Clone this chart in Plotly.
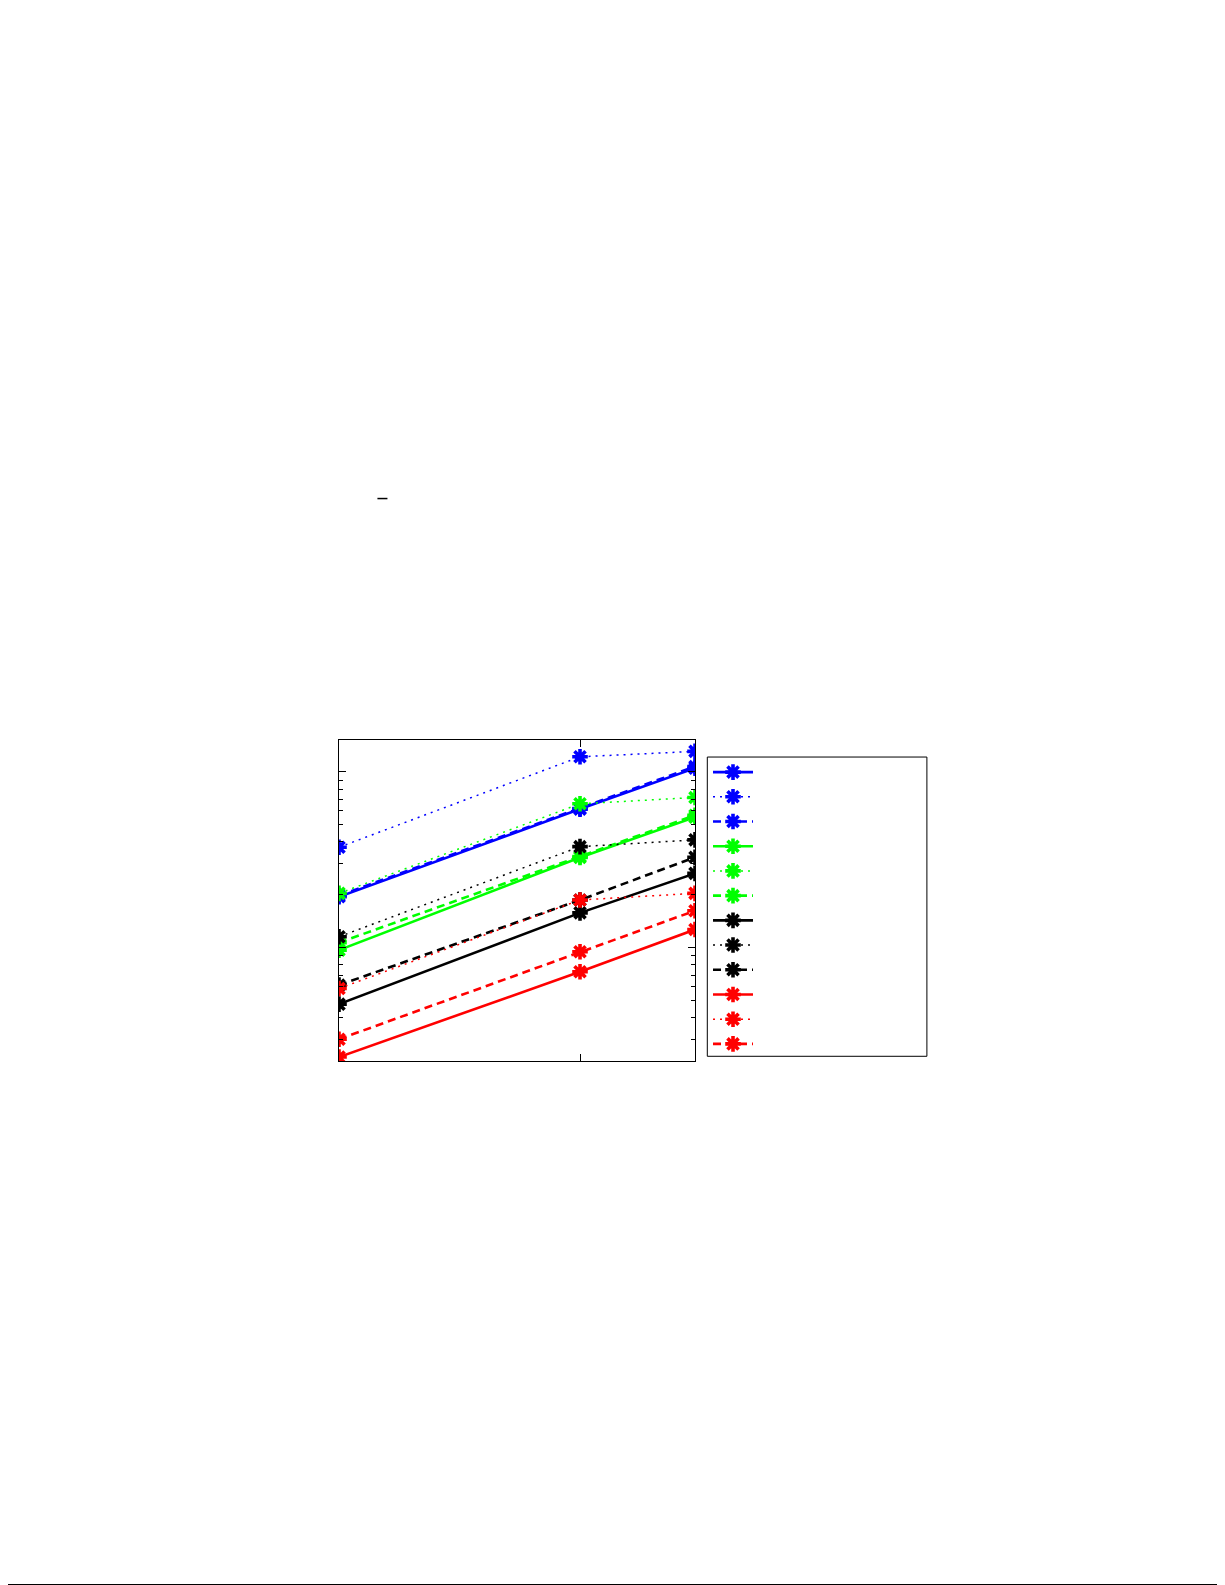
import plotly.graph_objects as go

# ---- data ----
x_vals = [10, 100, 300]
series_names = [" ", " ", " ", " ", " ", " ", " ", " ", " ", " ", " ", " "]
blue_solid = [1.95, 6.15, 10.5]
blue_dotted = [3.73, 12.2, 13.1]
blue_dashed = [1.98, 6.2, 10.75]
green_solid = [0.97, 3.26, 5.53]
green_dotted = [2.04, 6.59, 7.16]
green_dashed = [1.07, 3.3, 5.67]
black_solid = [0.478, 1.58, 2.65]
black_dotted = [1.155, 3.76, 4.11]
black_dashed = [0.613, 1.87, 3.27]
red_solid = [0.239, 0.73, 1.27]
red_dotted = [0.587, 1.87, 2.04]
red_dashed = [0.302, 0.949, 1.625]
y_major_ticks = [1, 10]
y_minor_ticks = [0.3, 0.4, 0.5, 0.6, 0.7, 0.8, 0.9, 2, 3, 4, 5, 6, 7, 8, 9]
x_ticks = [100]

series = [
    (blue_solid, "#0000ff", "solid"),
    (blue_dotted, "#0000ff", "dot"),
    (blue_dashed, "#0000ff", "dash"),
    (green_solid, "#00ff00", "solid"),
    (green_dotted, "#00ff00", "dot"),
    (green_dashed, "#00ff00", "dash"),
    (black_solid, "#000000", "solid"),
    (black_dotted, "#000000", "dot"),
    (black_dashed, "#000000", "dash"),
    (red_solid, "#ff0000", "solid"),
    (red_dotted, "#ff0000", "dot"),
    (red_dashed, "#ff0000", "dash"),
]
dash_map = {"solid": "solid", "dot": "2px,5px", "dash": "8px,5px"}

OFF = 8  # default body margin of the page
W, H = 1225 - OFF, 1585 - OFF
L, R, T, B = 339.3 - OFF, 695.0 - OFF, 740.3 - OFF, 1060.7 - OFF  # plot area
pw, ph = R - L, B - T


def px(xp):
    return (xp - OFF - L) / pw


def py(yp):
    return (B - (yp - OFF)) / ph


fig = go.Figure()
for (vals, col, dash), name in zip(series, series_names):
    lw = 1.5 if dash == "dot" else 2.6
    fig.add_trace(go.Scatter(
        x=x_vals, y=vals, name=name, mode="lines+markers",
        line=dict(color=col, width=lw, dash=dash_map[dash]),
        marker=dict(symbol="asterisk-open", size=13, color=col,
                    line=dict(color=col, width=3.6)),
    ))

fig.update_layout(
    width=W, height=H,
    margin=dict(l=L, r=W - R, t=T, b=H - B, pad=0),
    paper_bgcolor="white", plot_bgcolor="white",
    showlegend=True,
    legend=dict(
        x=px(708), y=py(755), xanchor="left", yanchor="top",
        bgcolor="rgba(0,0,0,0)", borderwidth=0,
        font=dict(size=16.7, color="black"), itemwidth=40,
        tracegroupgap=0,
    ),
    xaxis=dict(
        type="log", range=[1, 2.4771], showgrid=False, zeroline=False,
        showline=True, linecolor="black", linewidth=1, mirror="allticks",
        ticks="inside", ticklen=7, tickcolor="black",
        tickvals=x_ticks, showticklabels=False,
    ),
    yaxis=dict(
        type="log", range=[-0.644, 1.1818], showgrid=False, zeroline=False,
        showline=True, linecolor="black", linewidth=1, mirror="allticks",
        ticks="inside", ticklen=7, tickcolor="black",
        tickvals=y_major_ticks, showticklabels=False,
        minor=dict(tickvals=y_minor_ticks, ticks="inside", ticklen=4,
                   tickcolor="black", showgrid=False),
    ),
    shapes=[
        # legend box
        dict(type="rect", xref="paper", yref="paper",
             x0=px(707.3), x1=px(926.7), y0=py(1056), y1=py(757.3),
             line=dict(color="black", width=1), fillcolor="rgba(0,0,0,0)"),
        # stray dash above chart
        dict(type="line", xref="paper", yref="paper",
             x0=px(377.7), x1=px(387.7), y0=py(499.3), y1=py(499.3),
             line=dict(color="black", width=1.5)),
        # page rule at bottom
        dict(type="line", xref="paper", yref="paper",
             x0=px(8), x1=px(1225), y0=py(1583.5), y1=py(1583.5),
             line=dict(color="black", width=1.5)),
    ],
)

fig.write_html("out.html")
